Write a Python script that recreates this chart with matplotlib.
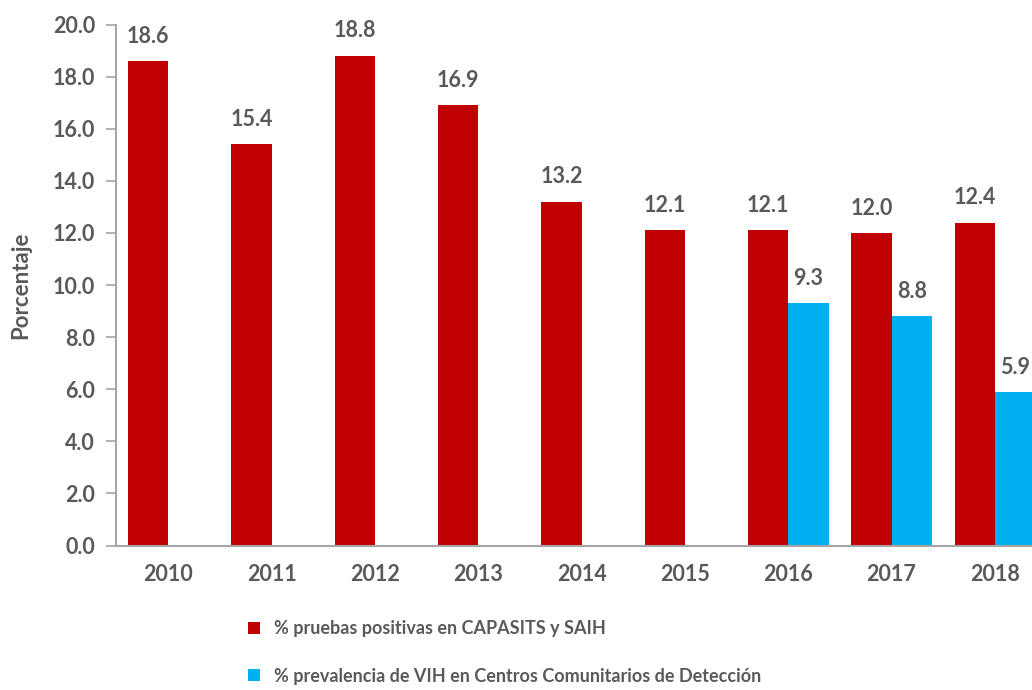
import matplotlib.pyplot as plt
import numpy as np

# datos
years = ["2010", "2011", "2012", "2013", "2014", "2015", "2016", "2017", "2018"]
capasits = [18.6, 15.4, 18.8, 16.9, 13.2, 12.1, 12.1, 12.0, 12.4]
ccd_years = ["2016", "2017", "2018"]
ccd = [9.3, 8.8, 5.9]

label_red = "% pruebas positivas en CAPASITS y SAIH"
label_blue = "% prevalencia de VIH en Centros Comunitarios de Detección"

plt.rcParams['font.family'] = ['Lato', 'DejaVu Sans']
grey = "#595959"
red = "#C00000"
blue = "#00B0F0"

fig = plt.figure(figsize=(10.32, 6.9), dpi=100)
ax = fig.add_axes([0.1124, 0.2094, 0.8876, 0.755])

x = np.arange(len(years))
xb = np.array([years.index(y) for y in ccd_years])
w = 0.39

b1 = ax.bar(x - w / 2, capasits, w, color=red, label=label_red)
b2 = ax.bar(xb + w / 2, ccd, w, color=blue, label=label_blue)

for xi, v in zip(x - w / 2, capasits):
    ax.text(xi, v + 0.55, f"{v:.1f}", ha="center", va="bottom",
            fontsize=15.5, fontweight="bold", color=grey)
for xi, v in zip(xb + w / 2, ccd):
    ax.text(xi, v + 0.55, f"{v:.1f}", ha="center", va="bottom",
            fontsize=15.5, fontweight="bold", color=grey, clip_on=False)

ax.set_xlim(-0.508, 8.36)
ax.set_ylim(0, 20)
ticks = np.arange(0, 20.1, 2)
ax.set_yticks(ticks)
ax.set_yticklabels([f"{t:.1f}" for t in ticks])
ax.set_xticks(x)
ax.set_xticklabels(years)

for lab in ax.get_xticklabels() + ax.get_yticklabels():
    lab.set_fontsize(15.5)
    lab.set_fontweight("bold")
    lab.set_color(grey)

ax.tick_params(axis="x", length=0, pad=13)
ax.tick_params(axis="y", length=7, width=1.2, color="#A6A6A6", pad=8)
for s in ["top", "right"]:
    ax.spines[s].set_visible(False)
for s in ["left", "bottom"]:
    ax.spines[s].set_color("#A6A6A6")
    ax.spines[s].set_linewidth(1.5)

ax.set_ylabel("Porcentaje", fontsize=16, fontweight="bold", color=grey)
ax.yaxis.set_label_coords(-0.092, 0.50)

leg = fig.legend(handles=[b1, b2], loc="upper left", bbox_to_anchor=(0.225, 0.125),
                 frameon=False, handlelength=0.65, handleheight=0.65,
                 labelspacing=1.7, handletextpad=0.75,
                 prop={"weight": "bold", "size": 13})
for t in leg.get_texts():
    t.set_color(grey)

fig.savefig("out.png", dpi=100)
